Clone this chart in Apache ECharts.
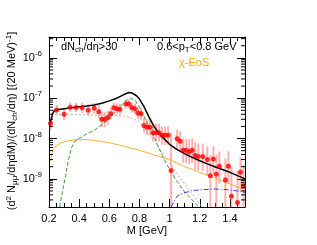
<!DOCTYPE html>
<html><head><meta charset="utf-8">
<script src="https://cdn.jsdelivr.net/npm/echarts@6/dist/echarts.min.js"></script>
<style>html,body{margin:0;padding:0;background:#fff}#c{width:317px;height:245px}</style>
</head><body><div id="c"></div>
<script>
// ---- data points (M [GeV], yield, error low, error high)
const massPts = [0.21,0.25,0.30,0.34,0.38,0.42,0.46,0.50,0.53,0.55,0.57,0.59,0.61,0.63,0.65,0.67,0.71,0.73,0.75,0.77,0.79,0.81,0.83,0.85,0.87,0.89,0.91,0.93,0.95,0.97,0.99,1.01,1.05,1.07,1.09,1.11,1.13,1.15,1.17,1.19,1.22,1.25,1.27,1.29,1.31,1.33,1.37,1.39,1.41,1.45,1.47,1.49];
const yieldPts = [2.4e-8,5.1e-8,4.0e-8,6.0e-8,5.9e-8,5.8e-8,5.0e-8,5.6e-8,4.6e-8,3.0e-8,3.0e-8,3.3e-8,4.1e-8,5.8e-8,5.5e-8,5.3e-8,7.2e-8,7.2e-8,5.8e-8,5.5e-8,4.3e-8,4.1e-8,2.1e-8,1.9e-8,1.9e-8,1.4e-8,1.4e-8,1.4e-8,1.2e-8,1.2e-8,1.2e-8,1.6e-9,9.8e-9,8.6e-9,5.1e-9,5.1e-9,4.7e-9,5.1e-9,3.8e-9,3.6e-9,3.6e-9,3.0e-9,1.2e-9,3.1e-9,1.3e-9,2.05e-9,9.3e-10,2.05e-9,3.7e-10,2.6e-10,1.45e-9,6.6e-10];
const errLo = [1.6e-8,3.8e-8,2.9e-8,4.6e-8,4.5e-8,4.3e-8,3.6e-8,4.1e-8,3.2e-8,1.9e-8,1.9e-8,2.2e-8,2.9e-8,4.3e-8,4.0e-8,3.9e-8,5.6e-8,5.6e-8,4.4e-8,4.1e-8,3.0e-8,2.9e-8,1.4e-8,1.2e-8,1.2e-8,8.5e-9,8.5e-9,8.5e-9,7.0e-9,7.0e-9,7.0e-9,1e-10,5.5e-9,4.6e-9,2.5e-9,2.5e-9,2.3e-9,2.5e-9,1.7e-9,1.6e-9,1.6e-9,1.2e-9,1e-10,1.3e-9,1e-10,7.5e-10,1e-10,7.5e-10,1e-10,1e-10,5.0e-10,1.5e-10];
const errHi = [3.5e-8,6.8e-8,5.5e-8,7.8e-8,7.7e-8,7.8e-8,6.9e-8,7.6e-8,6.6e-8,4.6e-8,4.6e-8,4.9e-8,5.8e-8,7.8e-8,7.5e-8,7.2e-8,9.2e-8,9.2e-8,7.6e-8,7.4e-8,6.0e-8,5.8e-8,3.2e-8,3.0e-8,3.0e-8,2.3e-8,2.3e-8,2.3e-8,2.0e-8,2.0e-8,2.0e-8,1.4e-8,1.7e-8,1.5e-8,1.0e-8,1.0e-8,9.5e-9,1.0e-8,8.0e-9,7.5e-9,7.5e-9,6.5e-9,4.0e-9,6.5e-9,4.0e-9,4.8e-9,3.2e-9,4.8e-9,2.0e-9,1.6e-9,3.5e-9,2.2e-9];

// ---- model curves
const totalM = [0.205,0.215,0.225,0.235,0.25,0.30,0.35,0.40,0.45,0.50,0.55,0.60,0.65,0.70,0.73,0.75,0.78,0.80,0.83,0.86,0.90,0.95,1.00,1.05,1.10,1.15,1.20,1.25,1.30,1.35,1.40,1.45,1.50];
const totalY = [2.2e-8,3.0e-8,4.2e-8,4.9e-8,5.2e-8,5.5e-8,5.8e-8,6.1e-8,6.4e-8,6.8e-8,7.5e-8,8.6e-8,1.0e-7,1.25e-7,1.38e-7,1.35e-7,1.15e-7,9.5e-8,6.2e-8,3.6e-8,1.9e-8,1.1e-8,7.2e-9,5.3e-9,4.2e-9,3.4e-9,2.8e-9,2.35e-9,2.0e-9,1.7e-9,1.45e-9,1.2e-9,1.0e-9];
const rhoM = [0.27,0.29,0.31,0.33,0.35,0.37,0.40,0.45,0.50,0.55,0.60,0.65,0.70,0.74,0.77,0.80,0.84,0.87,0.90,0.93,0.96,1.00,1.05,1.10,1.15,1.19];
const rhoY = [2e-10,5e-10,1.2e-9,3e-9,6e-9,8.5e-9,1.0e-8,1.3e-8,1.6e-8,2.2e-8,3.1e-8,5e-8,8e-8,1e-7,9e-8,6e-8,3e-8,1.7e-8,1.05e-8,5.7e-9,3.2e-9,1.7e-9,8.5e-10,4.7e-10,3e-10,2e-10];
const hadM = [0.24,0.30,0.40,0.50,0.60,0.70,0.75,0.80,0.85,0.90,0.95,1.00,1.05,1.10,1.15,1.20,1.215];
const hadY = [3.9e-8,4.0e-8,3.9e-8,3.8e-8,3.8e-8,3.6e-8,3.2e-8,2.6e-8,1.5e-8,8.5e-9,4.6e-9,2.5e-9,1.35e-9,7.5e-10,4.2e-10,2.4e-10,2e-10];
const eosM = [0.21,0.215,0.22,0.23,0.25,0.28,0.32,0.36,0.40,0.45,0.50,0.60,0.70,0.80,0.90,1.00,1.10,1.20,1.30,1.40,1.50];
const eosY = [2.7e-9,3.6e-9,4.4e-9,5.4e-9,6.6e-9,7.8e-9,8.6e-9,9.2e-9,9.4e-9,9.4e-9,9.0e-9,7.9e-9,6.4e-9,5.1e-9,3.9e-9,3.0e-9,2.0e-9,1.45e-9,1.05e-9,7.5e-10,5.2e-10];
const charmM = [1.01,1.03,1.05,1.09,1.15,1.22,1.30,1.38,1.45,1.50];
const charmY = [2e-10,2.8e-10,3.7e-10,4.4e-10,5.1e-10,5.4e-10,5.6e-10,5.4e-10,5.0e-10,4.6e-10];

// ---- axis ticks
const yMajorExp = [-9,-8,-7,-6];
const yMinorTicks = [3e-10,4e-10,5e-10,6e-10,7e-10,8e-10,9e-10,2e-9,3e-9,4e-9,5e-9,6e-9,7e-9,8e-9,9e-9,2e-8,3e-8,4e-8,5e-8,6e-8,7e-8,8e-8,9e-8,2e-7,3e-7,4e-7,5e-7,6e-7,7e-7,8e-7,9e-7,2e-6,3e-6];
const xMin = 0.2, xMax = 1.5, yMin = 2e-10, yMax = 3.3e-6;

const FONT = 'Liberation Sans, Arial, Helvetica, sans-serif';
const chart = echarts.init(document.getElementById('c'), null, {renderer:'canvas'});
const pairs = (a,b) => a.map((v,i)=>[v,b[i]]);
const axLine = {show:true, onZero:false, lineStyle:{color:'#000', width:1}};
function xAx(pos, labels){
  return {type:'value', min:xMin, max:xMax, interval:0.2, position:pos,
    axisLine:axLine, splitLine:{show:false},
    axisTick:{show:true, inside:true, length:8, lineStyle:{color:'#000'}},
    minorTick:{show:true, splitNumber:4, length:4, lineStyle:{color:'#000'}},
    axisLabel:{show:labels, color:'#000', fontSize:11, fontFamily:FONT, margin:6, showMaxLabel:false, showMinLabel:true}};
}
function yAx(pos, labels){
  return {type:'log', logBase:10, min:yMin, max:yMax, position:pos,
    axisLine:axLine, splitLine:{show:false},
    axisTick:{show:true, inside:true, length:8, lineStyle:{color:'#000'}},
    minorTick:{show:false},
    axisLabel:{show:labels, color:'#000', fontFamily:FONT, margin:7, showMinLabel:false, showMaxLabel:false,
      formatter: v => { const e = Math.round(Math.log10(v)); return yMajorExp.indexOf(e) >= 0 ? '{b|10}{s|' + e + '}' : ''; },
      rich:{ b:{fontSize:11, lineHeight:16, fontFamily:FONT, color:'#000'}, s:{fontSize:8, lineHeight:9, verticalAlign:'top', fontFamily:FONT, color:'#000'} }}};
}
const rich = {
  n:{fontSize:11, lineHeight:14, fontFamily:FONT},
  sub:{fontSize:8, lineHeight:8, verticalAlign:'bottom', fontFamily:FONT},
  sup:{fontSize:8, lineHeight:8, verticalAlign:'top', fontFamily:FONT}
};
const option = {
  animation:false,
  backgroundColor:'#fff',
  grid:{left:49, right:72, top:37, bottom:38, containLabel:false, outerBoundsMode:'none'},
  xAxis:[xAx('bottom', true), xAx('top', false)],
  yAxis:[yAx('left', true), yAx('right', false)],
  series:[
    {type:'custom', clip:true, z:2, data: massPts.map((m,i)=>[m, errLo[i], errHi[i]]),
      renderItem:(params, api)=>{
        const p1 = api.coord([api.value(0), api.value(1)]);
        const p2 = api.coord([api.value(0), api.value(2)]);
        return {type:'line', shape:{x1:p1[0], y1:p1[1], x2:p2[0], y2:p2[1]}, style:{stroke:'rgba(255,100,100,0.5)', lineWidth:2}};
      }},
    {type:'line', data:pairs(eosM,eosY), symbol:'none', z:3, lineStyle:{color:'#ffb030', width:1}},
    {type:'line', data:pairs(hadM,hadY), symbol:'none', z:3, lineStyle:{color:'#d9a3a3', width:1, type:[2,2]}},
    {type:'line', data:pairs(rhoM,rhoY), symbol:'none', z:3, lineStyle:{color:'#3a9a3a', width:1, type:[4,2]}},
    {type:'line', data:pairs(charmM,charmY), symbol:'none', z:3, lineStyle:{color:'#3333ff', width:1, type:[5,2,1,2]}},
    {type:'line', data:pairs(totalM,totalY), symbol:'none', z:4, lineStyle:{color:'#000', width:1.5}},
    {type:'scatter', data:pairs(massPts,yieldPts), symbol:'circle', symbolSize:5, z:5, itemStyle:{color:'#ff0000'}},
    {type:'custom', clip:false, z:6, data: yMinorTicks.map(v=>[xMin, v]),
      renderItem:(params, api)=>{
        const l = api.coord([xMin, api.value(1)]);
        const r = api.coord([xMax, api.value(1)]);
        return {type:'group', children:[
          {type:'line', shape:{x1:l[0], y1:l[1], x2:l[0]+4, y2:l[1]}, style:{stroke:'#000', lineWidth:1}},
          {type:'line', shape:{x1:r[0]-4, y1:r[1], x2:r[0], y2:r[1]}, style:{stroke:'#000', lineWidth:1}}
        ]};
      }}
  ],
  graphic:[
    {type:'text', x:61, y:47, style:{text:'{n|dN}{sub|ch}{n|/dη>30}', rich:rich, fill:'#000', verticalAlign:'middle', textVerticalAlign:'middle', align:'left', textAlign:'left'}},
    {type:'text', x:157, y:47, style:{text:'{n|0.6<p}{sub|T}{n|<0.8 GeV}', rich:rich, fill:'#000', verticalAlign:'middle', textVerticalAlign:'middle', align:'left', textAlign:'left'}},
    {type:'text', x:179, y:63, style:{text:'χ-EoS', font:'11px ' + FONT, fill:'#ffa500', verticalAlign:'middle', textVerticalAlign:'middle', align:'left', textAlign:'left'}},
    {type:'text', x:147, y:231, style:{text:'M [GeV]', font:'11px ' + FONT, fill:'#000', verticalAlign:'middle', textVerticalAlign:'middle', align:'center', textAlign:'center'}},
    {type:'text', x:12, y:121, rotation:Math.PI/2, style:{text:'{n|(d}{sup|2}{n| N}{sub|μμ}{n|/dηdM)/(dN}{sub|ch}{n|/dη) [(20 MeV)}{sup|-1}{n|]}', rich:rich, fill:'#000', verticalAlign:'middle', textVerticalAlign:'middle', align:'center', textAlign:'center'}}
  ]
};
chart.setOption(option);
</script>
</body></html>
